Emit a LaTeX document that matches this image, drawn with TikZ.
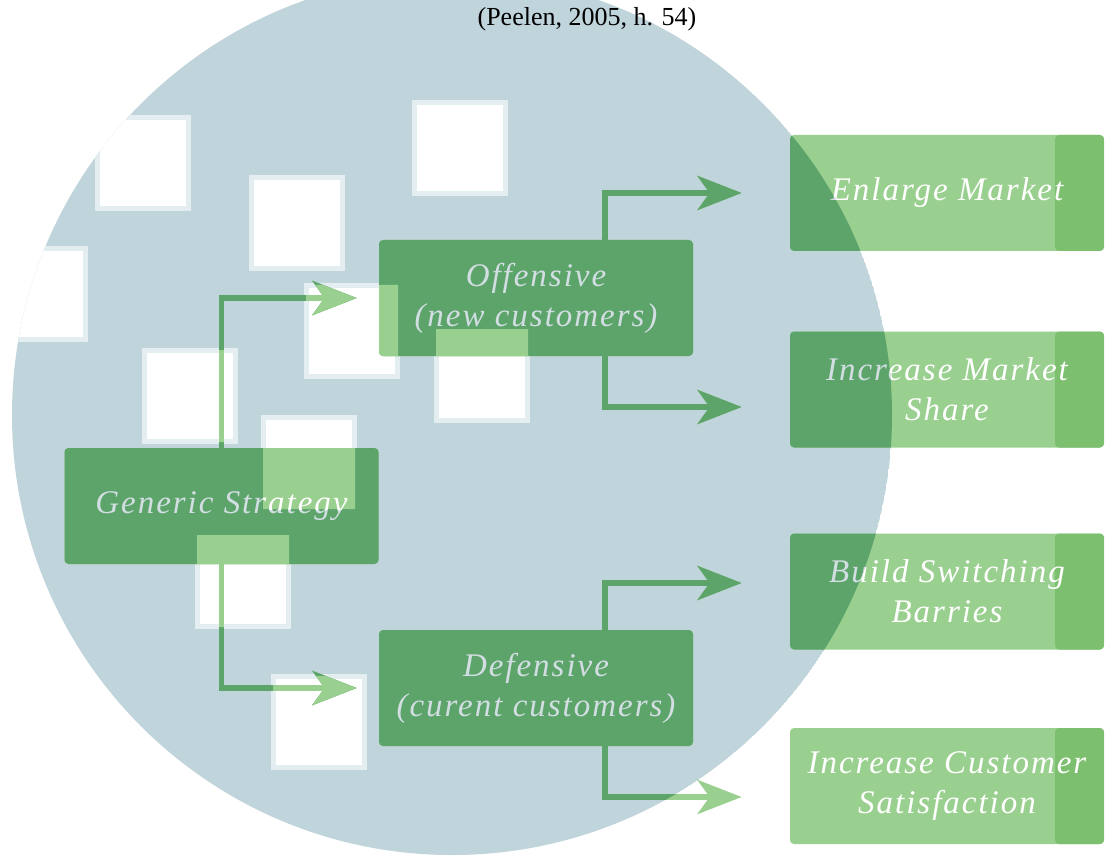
\documentclass[tikz,border=0pt]{standalone}
\usepackage{fontspec}
\setmainfont{Liberation Serif}
\newfontfamily\boxfont[LetterSpace=6]{Liberation Serif}
\usetikzlibrary{arrows.meta}

\definecolor{blobgrey}{HTML}{C0D4DB}
\definecolor{squareedge}{HTML}{E4EDF0}
\definecolor{darkgreen}{HTML}{5DA46B}
\definecolor{lightgreen}{HTML}{9AD08F}
\definecolor{stripgreen}{HTML}{7CC06F}
\definecolor{greytext}{HTML}{D2DEE2}

\tikzset{
  box/.style={rounded corners=2pt, minimum width=157pt, minimum height=58pt,
    inner sep=0pt, align=center, font=\boxfont\itshape\fontsize{16.5}{20}\selectfont},
  goal/.style={box, path picture={\fill[stripgreen]
    ([xshift=-24.5pt]path picture bounding box.north east) rectangle (path picture bounding box.south east);}},
  link/.style={line width=2.75pt, -{Stealth[length=22pt,width=17pt,inset=6pt]}},
}

\newcommand\blobpath{(452,415) circle[radius=220pt]}
\newcommand\squarelist{460/148, 297/223, 143/163, 40/294, 190/396, 352/331, 482/375, 309/463, 243/581, 319/722}

% #1 box fill, #2 text, #3 arrows, #4 name suffix
\newcommand\drawchart[4]{%
  \node[box, fill=#1, text=#2] (generic#4) at (221.5,506) {Generic Strategy};
  \node[box, fill=#1, text=#2] (offensive#4) at (536,298) {Offensive\\(new customers)};
  \node[box, fill=#1, text=#2] (defensive#4) at (536,688) {Defensive\\(curent customers)};
  \node[goal, fill=#1, text=#2] (enlarge#4) at (947,193) {Enlarge Market};
  \node[goal, fill=#1, text=#2] (share#4) at (947,389.5) {Increase Market\\Share};
  \node[goal, fill=#1, text=#2] (barrier#4) at (947,591.5) {Build Switching\\Barries};
  \node[goal, fill=#1, text=#2] (satisfy#4) at (947,786) {Increase Customer\\Satisfaction};
  \draw[link, #3, shorten >=11pt] (generic#4.north) |- (offensive#4.west);
  \draw[link, #3, shorten >=11pt] (generic#4.south) |- (defensive#4.west);
  \draw[link, #3, shorten >=24pt] ([xshift=34.5pt]offensive#4.north) |- (enlarge#4.west);
  \draw[link, #3, shorten >=24pt] ([xshift=34.5pt]offensive#4.south) |- ([yshift=-8.75pt]share#4.west);
  \draw[link, #3, shorten >=24pt] ([xshift=34.5pt]defensive#4.north) |- ([yshift=4.25pt]barrier#4.west);
  \draw[link, #3, shorten >=24pt] ([xshift=34.5pt]defensive#4.south) |- ([yshift=-5.5pt]satisfy#4.west);
}

\begin{document}
\begin{tikzpicture}[x=0.5pt, y=-0.5pt]
\useasboundingbox (0,0) rectangle (1106,855);
\fill[white] (0,0) rectangle (1106,855);

\begin{scope}
  \clip \blobpath;
  \fill[blobgrey] \blobpath;
  \foreach \cx/\cy in \squarelist {
    \fill[squareedge] ({\cx-48},{\cy-48}) rectangle ({\cx+48},{\cy+48});
    \fill[white] ({\cx-43},{\cy-43}) rectangle ({\cx+43},{\cy+43});
  }
\end{scope}

\node[font=\fontsize{13}{15}\selectfont] (source) at (587,19) {(Peelen, 2005, h. 54)};

\drawchart{lightgreen}{white}{lightgreen}{}
\begin{scope}
  \clip \blobpath;
  \drawchart{darkgreen}{greytext}{darkgreen}{dark}
\end{scope}
\begin{scope}
  \clip \foreach \cx/\cy in \squarelist {({\cx-46},{\cy-46}) rectangle ({\cx+46},{\cy+46})};
  \drawchart{lightgreen}{white}{lightgreen}{pale}
\end{scope}
\end{tikzpicture}
\end{document}
